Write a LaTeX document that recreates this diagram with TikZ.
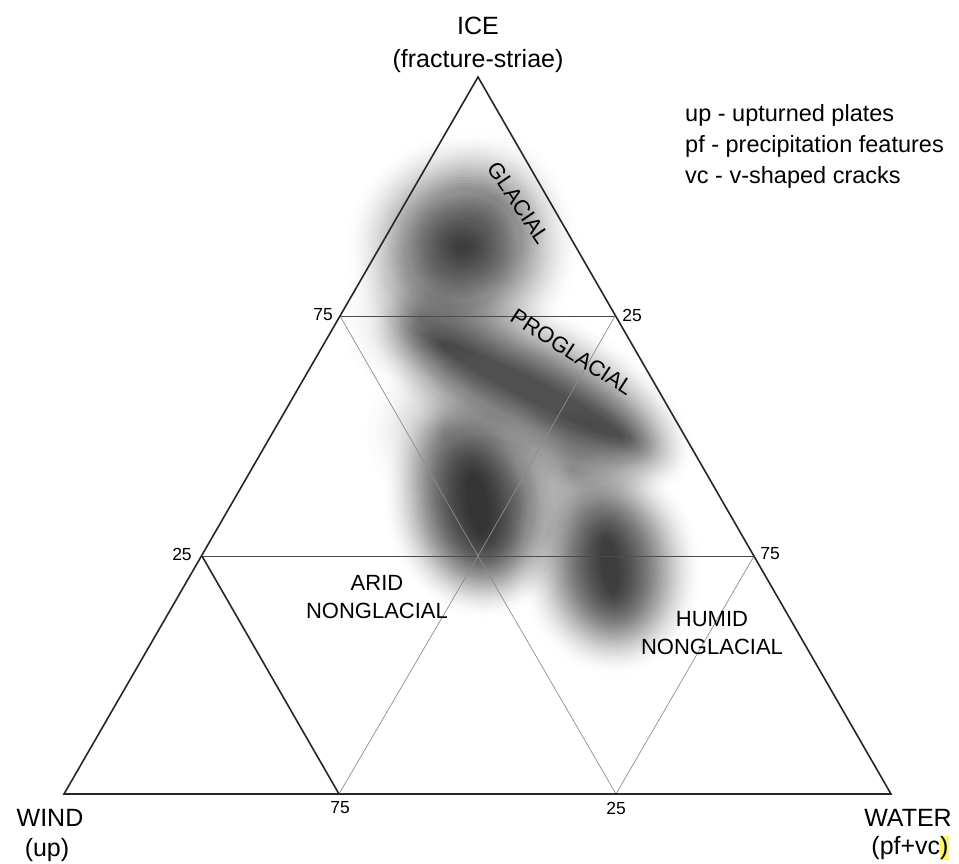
\documentclass[tikz,border=0pt]{standalone}
\usepackage{fontspec}
\setmainfont{Liberation Sans}
% soft spot: x, y, core x radius, core y radius, blur width, angle, peak opacity
\newcommand\softspot[7]{%
  \pgfmathsetmacro\ringA{-ln(1-#7)*2/41}
  \foreach \k in {0,...,39}{
    \pgfmathsetmacro\rx{max(#3+#5-2*#5*\k/39,0.5)}
    \pgfmathsetmacro\ry{max(#4+#5-2*#5*\k/39,0.5)}
    \pgfmathsetmacro\ringop{\ringA*(\k+1)/40}
    \fill[black!85, fill opacity=\ringop, rotate around={#6:(#1,#2)}]
      (#1,#2) ellipse ({\rx} and {\ry});
  }}
\tikzset{
  edge/.style={line width=1.6pt, draw=black!85},
  grid/.style={line width=0.8pt, draw=black!70},
  fine/.style={line width=0.7pt, draw=black!45},
  corner/.style={font=\fontsize{25}{30}\selectfont},
  tick/.style={font=\fontsize{17.5}{20}\selectfont},
  area/.style={font=\fontsize{22}{28}\selectfont, align=center},
  legend/.style={font=\fontsize{23.5}{31}\selectfont, anchor=west}
}
\begin{document}
\begin{tikzpicture}[x=1pt, y=-1pt, every node/.style={inner sep=0pt}]
  \useasboundingbox (0,0) rectangle (959,863);
  % blurred fields
  \softspot{463}{247}{62}{60}{55}{0}{0.88}
  \softspot{495}{200}{30}{30}{50}{0}{0.25}
  \softspot{420}{318}{35}{35}{50}{0}{0.45}
  \softspot{532}{390}{140}{48}{38}{-27}{0.8}
  \softspot{445}{432}{35}{35}{50}{0}{0.5}
  \softspot{478}{505}{72}{52}{42}{-80}{0.92}
  \softspot{572}{470}{40}{40}{50}{0}{0.5}
  \softspot{610}{566}{68}{50}{42}{-82}{0.88}
  % triangle and grid
  \coordinate (top) at (478,77);
  \coordinate (bl) at (64,794);
  \coordinate (br) at (891,794);
  \coordinate (l75) at (340,316);
  \coordinate (r25) at (615,316);
  \coordinate (l25) at (202,556);
  \coordinate (r75) at (754,556);
  \coordinate (mid) at (478,556);
  \coordinate (b75) at (339,794);
  \coordinate (b25) at (616,794);
  \draw[grid] (l75) -- (r25);
  \draw[grid] (l25) -- (r75);
  \draw[fine] (l75) -- (mid) -- (b25);
  \draw[fine] (r25) -- (mid) -- (b75);
  \draw[fine] (r75) -- (b25);
  \draw[edge] (l25) -- (b75);
  \draw[edge, line join=miter] (top) -- (bl) -- (br) -- cycle;
  % tick values
  \node[tick] (t1) at (323,315) {75};
  \node[tick] (t2) at (632,315) {25};
  \node[tick] (t3) at (182,554) {25};
  \node[tick] (t4) at (770,554) {75};
  \node[tick] (t5) at (340,808) {75};
  \node[tick] (t6) at (616,808) {25};
  % corners
  \node[corner] (ice) at (478,26) {ICE};
  \node[corner] (icesub) at (478,61) {(fracture-striae)};
  \node[corner] (wind) at (50,818) {WIND};
  \node[corner] (windsub) at (47,850) {(up)};
  \node[corner] (water) at (908,818) {WATER};
  \node[corner] (watersub) at (910,848) {(pf+vc{\setlength{\fboxsep}{0pt}\colorbox{yellow!60}{)}}};
  % legend
  \node[legend] (lg1) at (685,115) {up - upturned plates};
  \node[legend] (lg2) at (685,146) {pf - precipitation features};
  \node[legend] (lg3) at (685,177) {vc - v-shaped cracks};
  % fields
  \node[area, rotate=-56] (glacial) at (519,203) {GLACIAL};
  \node[area, rotate=-33] (proglacial) at (572,352) {PROGLACIAL};
  \node[area] (arid) at (377,597) {ARID\\NONGLACIAL};
  \node[area] (humid) at (712,633) {HUMID\\NONGLACIAL};
\end{tikzpicture}
\end{document}
